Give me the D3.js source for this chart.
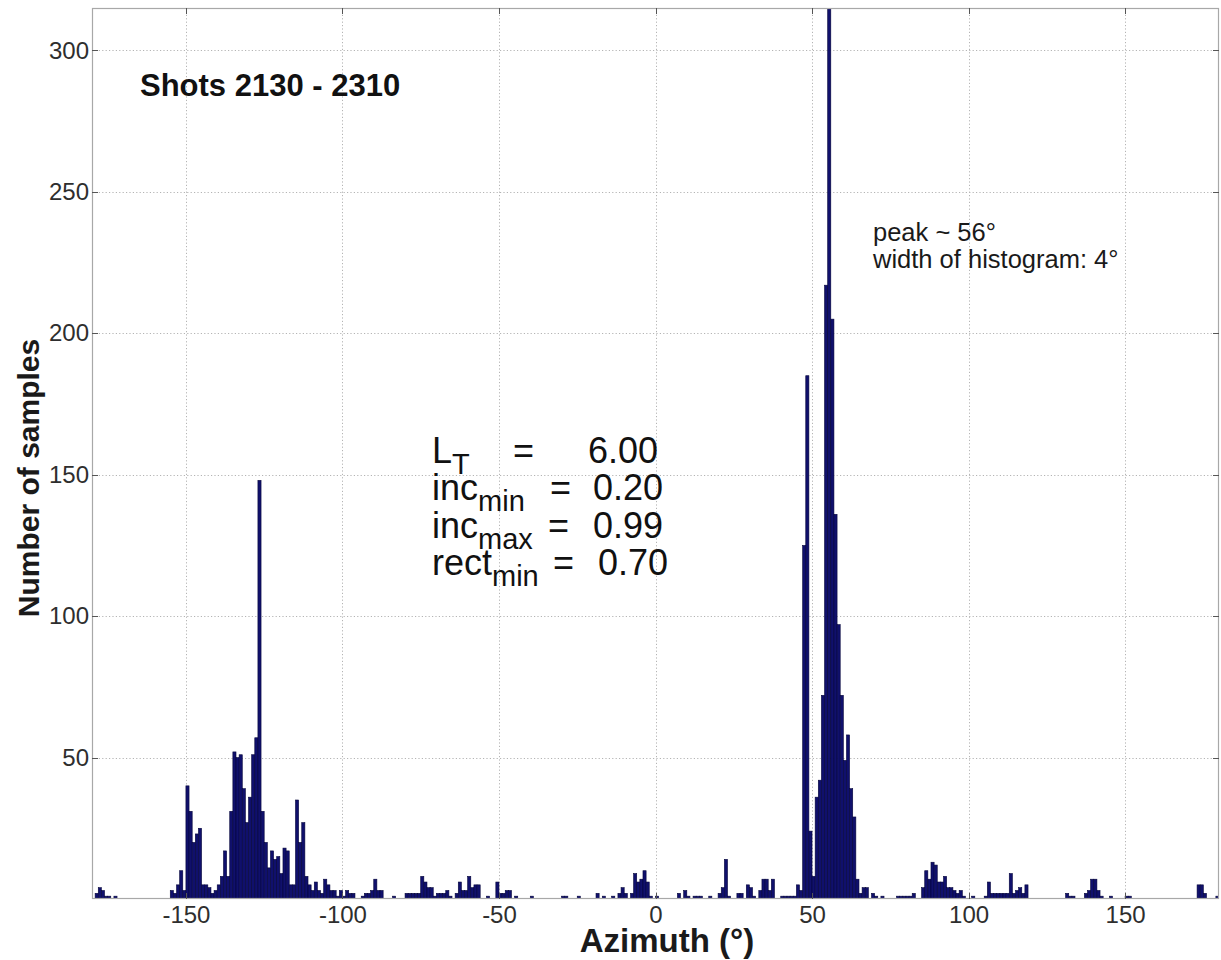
<!DOCTYPE html>
<html>
<head>
<meta charset="utf-8">
<script src="https://cdn.jsdelivr.net/npm/d3@7"></script>
<style>
  html, body { margin: 0; padding: 0; background: #fff; }
  svg { display: block; font-family: "Liberation Sans", Arial, Helvetica, sans-serif; }
</style>
</head>
<body>
<svg id="chart" width="1221" height="960"></svg>
<script>
// Histogram of azimuths, 1-degree bins from -180 to 179 (bin start in degrees)
const binStart = -180;
const binWidth = 1;
const binCounts = [
  /* -180 */ 0, 2, 4, 3, 1, 1, 0, 1, 0, 0, 0, 0, 0, 0, 0, 0, 0, 0, 0, 0,
  /* -160 */ 0, 0, 0, 0, 0, 3, 2, 5, 10, 3, 40, 31, 20, 23, 25, 5, 5, 4, 2, 3,
  /* -140 */ 5, 8, 17, 8, 31, 52, 50, 51, 39, 27, 36, 51, 57, 148, 31, 20, 11, 17, 14, 15,
  /* -120 */ 9, 18, 17, 5, 5, 35, 20, 27, 8, 5, 3, 6, 3, 2, 7, 5, 3, 3, 1, 3,
  /* -100 */ 1, 3, 2, 2, 0, 0, 1, 2, 2, 3, 7, 3, 3, 0, 0, 0, 1, 0, 0, 0,
  /*  -80 */ 2, 2, 2, 2, 2, 8, 6, 4, 4, 1, 2, 2, 2, 3, 1, 0, 2, 6, 3, 3,
  /*  -60 */ 8, 4, 5, 5, 0, 0, 1, 0, 0, 6, 2, 2, 3, 3, 0, 1, 0, 0, 0, 0,
  /*  -40 */ 1, 0, 0, 0, 0, 0, 0, 0, 0, 0, 1, 1, 0, 0, 0, 1, 0, 0, 0, 0,
  /*  -20 */ 0, 2, 0, 1, 0, 0, 1, 0, 2, 4, 2, 0, 2, 9, 6, 7, 10, 6, 1, 0,
  /*    0 */ 1, 0, 0, 0, 0, 0, 0, 2, 0, 3, 1, 0, 1, 1, 1, 0, 0, 1, 0, 0,
  /*   20 */ 2, 4, 14, 1, 0, 0, 2, 2, 0, 5, 4, 1, 0, 3, 7, 7, 3, 7, 0, 0,
  /*   40 */ 1, 1, 1, 1, 1, 5, 3, 125, 185, 24, 8, 36, 42, 72, 217, 330, 205, 136, 97, 72,
  /*   60 */ 49, 58, 39, 29, 7, 2, 4, 4, 0, 2, 1, 0, 1, 0, 0, 0, 0, 1, 1, 1,
  /*   80 */ 1, 1, 2, 0, 0, 4, 10, 7, 13, 12, 6, 6, 8, 4, 4, 3, 2, 3, 1, 0,
  /*  100 */ 0, 1, 0, 0, 0, 1, 6, 2, 2, 2, 2, 2, 2, 9, 2, 3, 4, 2, 5, 0,
  /*  120 */ 0, 0, 0, 0, 0, 0, 0, 0, 0, 0, 0, 2, 1, 1, 0, 0, 0, 2, 3, 7,
  /*  140 */ 7, 3, 1, 0, 0, 1, 0, 0, 0, 0, 1, 1, 0, 0, 0, 0, 0, 0, 0, 0,
  /*  160 */ 0, 0, 0, 0, 0, 0, 0, 0, 0, 0, 0, 0, 0, 5, 5, 2, 0, 0, 0, 1
];

const xDomain = [-180, 180];
const yDomain = [0, 315];
const xTicks = [-150, -100, -50, 0, 50, 100, 150];
const yTicks = [50, 100, 150, 200, 250, 300];

const titleText = "Shots 2130 - 2310";
const xLabel = "Azimuth (\u00B0)";
const yLabel = "Number of samples";
const noteLines = ["peak ~ 56\u00B0", "width of histogram: 4\u00B0"];
// parameter block: [base, subscript, value]
const paramRows = [
  ["L", "T", "6.00"],
  ["inc", "min", "0.20"],
  ["inc", "max", "0.99"],
  ["rect", "min", "0.70"]
];

const bins = binCounts.map((c, i) => ({ x0: binStart + i * binWidth, x1: binStart + (i + 1) * binWidth, count: c }));

const svg = d3.select("#chart");
const plot = { left: 92, right: 1219, top: 8, bottom: 899 };

const x = d3.scaleLinear().domain(xDomain).range([plot.left, plot.right]);
const y = d3.scaleLinear().domain(yDomain).range([plot.bottom, plot.top]);

svg.append("defs").append("clipPath").attr("id", "plotClip")
  .append("rect")
  .attr("x", plot.left).attr("y", plot.top)
  .attr("width", plot.right - plot.left).attr("height", plot.bottom - plot.top);

// dotted grid
const grid = svg.append("g").attr("stroke", "#b4b4b4").attr("stroke-width", 1).attr("stroke-dasharray", "1.2,2.2");
grid.selectAll("line.gx").data(xTicks).join("line")
  .attr("x1", d => Math.round(x(d)) + 0.5).attr("x2", d => Math.round(x(d)) + 0.5)
  .attr("y1", plot.top).attr("y2", plot.bottom);
grid.selectAll("line.gy").data(yTicks).join("line")
  .attr("y1", d => Math.round(y(d)) + 0.5).attr("y2", d => Math.round(y(d)) + 0.5)
  .attr("x1", plot.left).attr("x2", plot.right);

// histogram bars
svg.append("g").attr("clip-path", "url(#plotClip)")
  .selectAll("rect").data(bins.filter(b => b.count > 0)).join("rect")
  .attr("x", d => x(d.x0))
  .attr("width", d => x(d.x1) - x(d.x0))
  .attr("y", d => y(d.count))
  .attr("height", d => y(0) - y(d.count))
  .attr("fill", "#10106c")
  .attr("stroke", "#05053a")
  .attr("stroke-width", 0.6);

// box frame
svg.append("rect")
  .attr("x", plot.left + 0.5).attr("y", plot.top + 0.5)
  .attr("width", plot.right - plot.left - 1).attr("height", plot.bottom - plot.top - 1)
  .attr("fill", "none").attr("stroke", "#a8a8a8").attr("stroke-width", 1.2);

// axes: tick labels outside, tick marks inside (mirrored on opposite sides)
const tickLen = 6;
const plainNumber = d => String(d);
const xAxis = d3.axisBottom(x).tickValues(xTicks).tickSize(0).tickPadding(7).tickFormat(plainNumber);
const yAxis = d3.axisLeft(y).tickValues(yTicks).tickSize(0).tickPadding(3).tickFormat(plainNumber);

const gx = svg.append("g").attr("transform", `translate(0,${plot.bottom})`).call(xAxis);
const gy = svg.append("g").attr("transform", `translate(${plot.left},0)`).call(yAxis);
[gx, gy].forEach(g => {
  g.select(".domain").remove();
  g.selectAll("text").attr("fill", "#2e2e2e").attr("font-size", 24).attr("font-family", "Liberation Sans, Arial, sans-serif");
});

const ticks = svg.append("g").attr("stroke", "#555").attr("stroke-width", 1);
xTicks.forEach(t => {
  const px = Math.round(x(t)) + 0.5;
  ticks.append("line").attr("x1", px).attr("x2", px).attr("y1", plot.bottom).attr("y2", plot.bottom - tickLen);
  ticks.append("line").attr("x1", px).attr("x2", px).attr("y1", plot.top).attr("y2", plot.top + tickLen);
});
yTicks.forEach(t => {
  const py = Math.round(y(t)) + 0.5;
  ticks.append("line").attr("x1", plot.left).attr("x2", plot.left + tickLen).attr("y1", py).attr("y2", py);
  ticks.append("line").attr("x1", plot.right).attr("x2", plot.right - tickLen).attr("y1", py).attr("y2", py);
});

// axis titles
svg.append("text")
  .attr("x", 667).attr("y", 952)
  .attr("text-anchor", "middle")
  .attr("font-size", 33).attr("font-weight", "bold").attr("fill", "#1a1a1a")
  .text(xLabel);

svg.append("text")
  .attr("transform", "translate(39,478) rotate(-90)")
  .attr("text-anchor", "middle")
  .attr("font-size", 30).attr("font-weight", "bold").attr("fill", "#1a1a1a")
  .text(yLabel);

// panel title
svg.append("text")
  .attr("x", 140).attr("y", 96)
  .attr("font-size", 31).attr("font-weight", "bold").attr("fill", "#111")
  .text(titleText);

// peak annotation
svg.append("g").selectAll("text").data(noteLines).join("text")
  .attr("x", 873).attr("y", (d, i) => 241 + i * 27)
  .attr("font-size", 25.5).attr("fill", "#1a1a1a")
  .text(d => d);

// parameter block with subscripts
const pBaselines = [463, 500, 538, 575];
const eqX = [513, 550, 548, 553];
const valX = [588, 593, 593, 598];
const pg = svg.append("g").attr("fill", "#111").attr("font-size", 36);
paramRows.forEach((row, i) => {
  const t = pg.append("text").attr("x", 432).attr("y", pBaselines[i]);
  t.append("tspan").text(row[0]);
  t.append("tspan").attr("font-size", 29).attr("dy", 11).text(row[1]);
  pg.append("text").attr("x", eqX[i]).attr("y", pBaselines[i]).text("=");
  pg.append("text").attr("x", valX[i]).attr("y", pBaselines[i]).text(row[2]);
});
</script>
</body>
</html>
